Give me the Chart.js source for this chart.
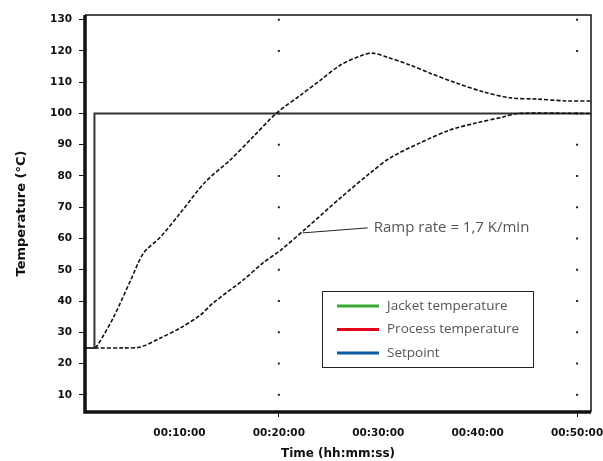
<!DOCTYPE html>
<html>
<head>
<meta charset="utf-8">
<script src="https://cdn.jsdelivr.net/npm/chart.js@4.4.1/dist/chart.umd.min.js"></script>
<style>
    html, body { margin: 0; padding: 0; background: #fff; }
    #wrap { width: 603px; height: 461px; }
</style>
</head>
<body>
<div id="wrap"><canvas id="tempChart" width="603" height="461"></canvas></div>
<script>
// Tiempos en minutos, temperaturas en °C
const jacketTime = [1.5, 1.8, 3.4, 5.1, 6.4, 8.1, 10.1, 12.6, 15.1, 17.4, 19.8, 22.2, 24.2, 26.2, 28.2, 29.4, 30.9, 33.2, 35.2, 37.9, 40.6, 43.3, 46.0, 49.0, 51.4];
const jacketTemp = [25, 26, 35, 46.7, 55.4, 60.5, 68.2, 78.1, 85.1, 92.5, 100.2, 105.9, 110.7, 115.5, 118.4, 119.3, 118.0, 115.5, 112.9, 109.7, 106.9, 105.0, 104.6, 104.0, 104.0];

const processTime = [1.5, 4.3, 6.1, 8.1, 10.1, 12.1, 13.4, 16.4, 18.4, 20.2, 22.9, 26.2, 29.2, 31.2, 34.2, 37.2, 39.9, 42.6, 44.0, 51.4];
const processTemp = [25, 25, 25.3, 28.2, 31.4, 35.5, 39.4, 46.7, 52.2, 56.3, 63.7, 73.0, 81.0, 85.8, 90.6, 94.7, 97.0, 98.9, 100, 100];

const setpointTime = [0.5, 1.45, 1.45, 51.4];
const setpointTemp = [25, 25, 100, 100];

const xTicks = [10, 20, 30, 40, 50];
const yTicks = [10, 20, 30, 40, 50, 60, 70, 80, 90, 100, 110, 120, 130];
const gridTimes = [20, 50];

const seriesLabels = ['Jacket temperature', 'Process temperature', 'Setpoint'];
const legendColors = ['#3aaa35', '#e2001a', '#0b5aa6'];

const rampText = 'Ramp rate = 1,7 K/min';
const rampAnchor = [22.4, 61.8];

function toPoints(xs, ys) {
    return xs.map((x, i) => ({ x: x, y: ys[i] }));
}

function formatTime(min) {
    const h = Math.floor(min / 60);
    const m = Math.floor(min % 60);
    const s = Math.round((min * 60) % 60);
    const pad = n => String(n).padStart(2, '0');
    return pad(h) + ':' + pad(m) + ':' + pad(s);
}

// Puntos de la rejilla (solo en 00:20:00 y 00:50:00)
const gridDots = {
    id: 'gridDots',
    beforeDatasetsDraw(chart) {
        const { ctx, scales } = chart;
        ctx.save();
        ctx.fillStyle = '#222';
        gridTimes.forEach(t => {
            const px = scales.x.getPixelForValue(t);
            yTicks.forEach(v => {
                if (v > 100 && v < 120) return;
                const py = scales.y.getPixelForValue(v);
                ctx.fillRect(px - 1, py - 1, 2, 2);
            });
        });
        ctx.restore();
    }
};

// Marco del área de la gráfica
const frame = {
    id: 'frame',
    afterDatasetsDraw(chart) {
        const { ctx, chartArea: a } = chart;
        ctx.save();
        ctx.strokeStyle = '#111';
        ctx.lineWidth = 1.5;
        ctx.beginPath();
        ctx.moveTo(a.left, a.top);
        ctx.lineTo(a.right, a.top);
        ctx.lineTo(a.right, a.bottom);
        ctx.stroke();
        ctx.lineWidth = 3.5;
        ctx.beginPath();
        ctx.moveTo(a.left, a.top);
        ctx.lineTo(a.left, a.bottom);
        ctx.lineTo(a.right, a.bottom);
        ctx.stroke();
        ctx.restore();
    }
};

// Anotación y leyenda dentro del área
const overlay = {
    id: 'overlay',
    afterDraw(chart) {
        const { ctx, scales } = chart;
        const ax = scales.x.getPixelForValue(rampAnchor[0]);
        const ay = scales.y.getPixelForValue(rampAnchor[1]);
        ctx.save();
        ctx.strokeStyle = '#222';
        ctx.lineWidth = 1;
        ctx.beginPath();
        ctx.moveTo(ax, ay);
        ctx.lineTo(ax + 65, ay - 5);
        ctx.stroke();
        ctx.fillStyle = '#555';
        ctx.font = '15px "Open Sans"';
        ctx.textBaseline = 'middle';
        ctx.fillText(rampText, ax + 71, ay - 5);

        // leyenda
        const bx = 322, by = 291, bw = 211, bh = 76;
        ctx.fillStyle = '#fff';
        ctx.fillRect(bx, by, bw, bh);
        ctx.strokeStyle = '#222';
        ctx.lineWidth = 1;
        ctx.strokeRect(bx + 0.5, by + 0.5, bw, bh);
        ctx.font = '13.5px "Open Sans"';
        seriesLabels.forEach((label, i) => {
            const yy = by + 15 + i * 23.5;
            ctx.strokeStyle = legendColors[i];
            ctx.lineWidth = 3;
            ctx.beginPath();
            ctx.moveTo(bx + 15, yy);
            ctx.lineTo(bx + 57, yy);
            ctx.stroke();
            ctx.fillStyle = '#555';
            ctx.fillText(label, bx + 65, yy);
        });
        ctx.restore();
    }
};

const ctx = document.getElementById('tempChart').getContext('2d');
new Chart(ctx, {
    type: 'line',
    data: {
        datasets: [
            {
                label: seriesLabels[0],
                data: toPoints(jacketTime, jacketTemp),
                borderColor: '#111',
                borderWidth: 1.6,
                borderDash: [4, 2],
                pointRadius: 0,
                tension: 0.3
            },
            {
                label: seriesLabels[1],
                data: toPoints(processTime, processTemp),
                borderColor: '#111',
                borderWidth: 1.6,
                borderDash: [4, 2],
                pointRadius: 0,
                tension: 0.3
            },
            {
                label: seriesLabels[2],
                data: toPoints(setpointTime, setpointTemp),
                borderColor: '#333',
                borderWidth: 2,
                pointRadius: 0,
                tension: 0
            }
        ]
    },
    options: {
        responsive: false,
        animation: false,
        layout: {
            padding: { left: 14, right: 12, top: 15, bottom: 0 }
        },
        plugins: {
            legend: { display: false },
            tooltip: { enabled: false }
        },
        scales: {
            x: {
                type: 'linear',
                min: 0.5,
                max: 51.4,
                afterBuildTicks: scale => {
                    scale.ticks = xTicks.map(v => ({ value: v }));
                },
                afterFit: scale => {
                    scale.height = 49;
                    scale.paddingLeft = 0;
                    scale.paddingRight = 0;
                },
                border: { display: false },
                grid: {
                    drawOnChartArea: false,
                    tickLength: 5,
                    tickColor: c => gridTimes.includes(c.tick.value) ? '#111' : 'rgba(0,0,0,0)'
                },
                ticks: {
                    color: '#111',
                    padding: 10,
                    font: { family: 'DejaVu Sans', size: 10.5, weight: 'bold' },
                    callback: value => formatTime(value)
                },
                title: {
                    display: true,
                    text: 'Time (hh:mm:ss)',
                    color: '#111',
                    padding: { top: 0, bottom: 0 },
                    font: { family: 'DejaVu Sans', size: 12, weight: 'bold' }
                }
            },
            y: {
                min: 4.5,
                max: 131.5,
                afterBuildTicks: scale => {
                    scale.ticks = yTicks.map(v => ({ value: v }));
                },
                afterFit: scale => {
                    scale.width = 71;
                    scale.paddingTop = 0;
                    scale.paddingBottom = 0;
                },
                border: { display: false },
                grid: {
                    drawOnChartArea: false,
                    tickLength: 6,
                    tickColor: '#111'
                },
                ticks: {
                    color: '#111',
                    padding: 7,
                    font: { family: 'DejaVu Sans', size: 10.5, weight: 'bold' }
                },
                title: {
                    display: true,
                    text: 'Temperature (°C)',
                    color: '#111',
                    padding: { top: 0, bottom: 0 },
                    font: { family: 'DejaVu Sans', size: 13, weight: 'bold' }
                }
            }
        }
    },
    plugins: [gridDots, frame, overlay]
});
</script>
</body>
</html>
